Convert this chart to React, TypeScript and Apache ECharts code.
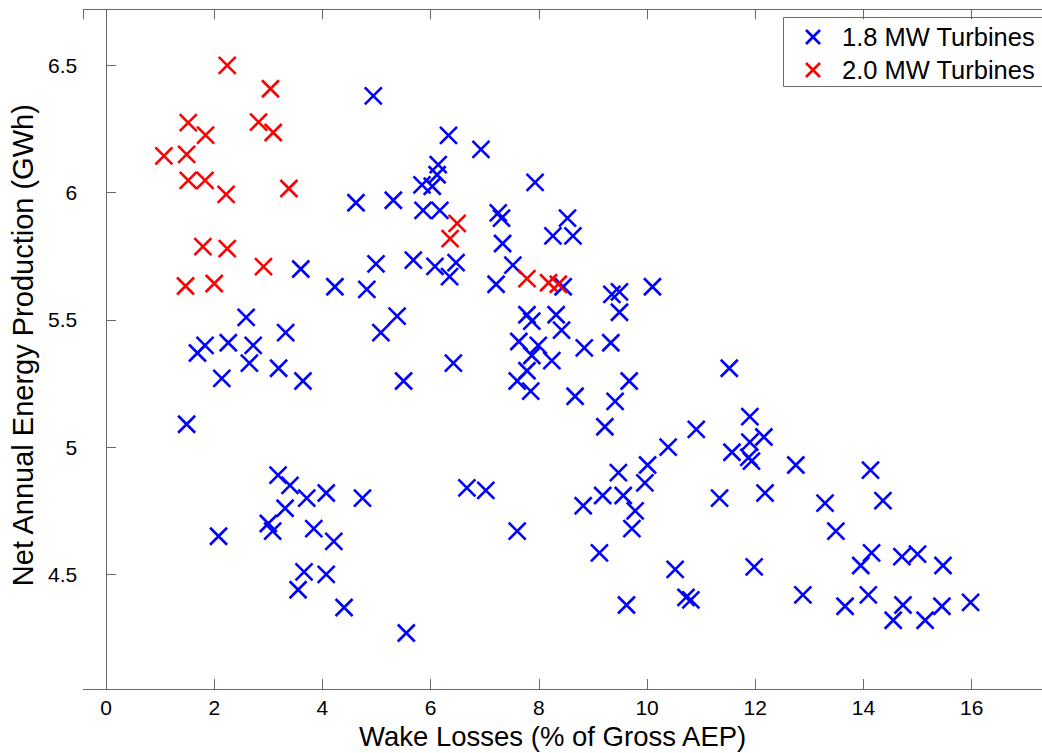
import React, { useEffect, useRef } from "react";
import * as echarts from "echarts";

const seriesNames = ["1.8 MW Turbines", "2.0 MW Turbines"];
const seriesColors = ["#0000ff", "#ff0000"];

const turbines18: number[][] = [
  [1.49, 5.09], [1.69, 5.37], [1.83, 5.4], [2.26, 5.41], [2.72, 5.4], [2.65, 5.33],
  [2.14, 5.27], [2.59, 5.51], [3.32, 5.45], [3.19, 5.31], [3.64, 5.26], [3.6, 5.7],
  [2.08, 4.65], [3.18, 4.89], [3.4, 4.85], [3.71, 4.8], [4.07, 4.82], [4.74, 4.8],
  [3.31, 4.76], [3.0, 4.7], [3.08, 4.67], [3.84, 4.68], [4.21, 4.63], [3.66, 4.51],
  [4.07, 4.5], [3.55, 4.44], [4.4, 4.37], [5.55, 4.27],
  [4.94, 6.38], [4.62, 5.96], [5.31, 5.97], [4.23, 5.63], [4.82, 5.62], [4.99, 5.72],
  [5.68, 5.735], [5.08, 5.45], [5.38, 5.515], [5.5, 5.26], [6.42, 5.33], [6.33, 6.225],
  [6.93, 6.17], [6.14, 6.11], [6.12, 6.07], [5.84, 6.03], [6.03, 6.025], [5.86, 5.93],
  [6.17, 5.93], [6.08, 5.71], [6.47, 5.725], [6.35, 5.67], [7.25, 5.92], [7.31, 5.9],
  [7.33, 5.8], [7.93, 6.04], [8.53, 5.9], [8.26, 5.83], [8.63, 5.83], [7.52, 5.715],
  [7.21, 5.64], [8.45, 5.63], [9.35, 5.6], [9.49, 5.61], [10.1, 5.63], [9.49, 5.53],
  [9.33, 5.41], [7.78, 5.52], [7.87, 5.495], [8.32, 5.52], [8.42, 5.46], [7.63, 5.415],
  [7.99, 5.4], [8.84, 5.39], [7.87, 5.36], [8.24, 5.34], [7.78, 5.3], [7.6, 5.26],
  [7.85, 5.22], [8.67, 5.2], [9.41, 5.18], [9.67, 5.26], [9.22, 5.08], [10.91, 5.07],
  [10.39, 5.0], [10.01, 4.93], [9.47, 4.9], [9.96, 4.86], [9.56, 4.81], [9.18, 4.81],
  [8.82, 4.77], [9.78, 4.75], [9.72, 4.68], [6.67, 4.84], [7.02, 4.83], [7.6, 4.67],
  [9.12, 4.585], [10.52, 4.52], [10.72, 4.41], [10.81, 4.4], [9.62, 4.38],
  [11.34, 4.8], [11.52, 5.31], [11.9, 5.12], [11.9, 5.02], [12.16, 5.04], [11.57, 4.98],
  [11.88, 4.96], [11.93, 4.945], [12.18, 4.82], [12.75, 4.93], [11.98, 4.53], [13.29, 4.78],
  [13.49, 4.67], [14.13, 4.91], [14.36, 4.79], [14.15, 4.585], [13.95, 4.535], [14.71, 4.57],
  [15.0, 4.58], [15.47, 4.535], [12.88, 4.42], [13.66, 4.375], [14.09, 4.42], [14.73, 4.38],
  [14.55, 4.32], [15.14, 4.32], [15.45, 4.375], [15.98, 4.39],
];

const turbines20: number[][] = [
  [2.24, 6.5], [3.04, 6.408], [1.52, 6.275], [1.84, 6.226], [2.82, 6.277], [3.09, 6.236],
  [1.07, 6.144], [1.49, 6.15], [1.52, 6.048], [1.83, 6.048], [2.22, 5.993], [3.38, 6.016],
  [1.79, 5.788], [2.24, 5.78], [2.91, 5.709], [1.47, 5.633], [2.0, 5.643],
  [6.49, 5.879], [6.36, 5.819], [7.78, 5.662], [8.18, 5.646], [8.36, 5.64],
];

const xRange = [-0.42, 17.3];
const yRange = [4.05, 6.72];
const xStep = 2;
const yStep = 0.5;

const xTitle = "Wake Losses (% of Gross AEP)";
const yTitle = "Net Annual Energy Production (GWh)";

const FONT = "'Liberation Sans', Arial, Helvetica, sans-serif";
const CROSS = "path://M0,0L10,10M10,0L0,10";

const isMultiple = (v: number, s: number) => Math.abs(v / s - Math.round(v / s)) < 1e-6;

export default function App() {
  const ref = useRef<HTMLDivElement>(null);
  useEffect(() => {
    if (!ref.current) return;
    const chart = echarts.init(ref.current, undefined, { renderer: "svg" });
    const axisLine = { show: true, lineStyle: { color: "#6a6a6a", width: 1 } };
    const tick = { show: true, inside: true, length: 10, lineStyle: { color: "#6a6a6a", width: 1 } };
    const mkSeries = (name: string, color: string, data: number[][]) => ({
      name,
      type: "scatter",
      data,
      symbol: CROSS,
      symbolSize: 17,
      itemStyle: { color: "transparent", borderColor: color, borderWidth: 2.6, opacity: 1 },
      emphasis: { disabled: true },
    });
    const legendY = [37, 70];
    const legendItems: any[] = [
      {
        type: "rect",
        shape: { x: 783.5, y: 17.5, width: 320, height: 69 },
        style: { fill: "#fff", stroke: "#6a6a6a", lineWidth: 1 },
      },
    ];
    seriesNames.forEach((n, i) => {
      const cy = legendY[i];
      legendItems.push(
        { type: "line", shape: { x1: 806, y1: cy - 7, x2: 820, y2: cy + 7 }, style: { stroke: seriesColors[i], lineWidth: 2.6 } },
        { type: "line", shape: { x1: 820, y1: cy - 7, x2: 806, y2: cy + 7 }, style: { stroke: seriesColors[i], lineWidth: 2.6 } },
        {
          type: "text",
          x: 842,
          y: cy,
          style: { text: n, fill: "#000", font: `25.5px ${FONT}`, verticalAlign: "middle", align: "left" },
        }
      );
    });
    const labelFmt = (s: number) => (v: number) => (isMultiple(v, s) ? String(v) : "");
    chart.setOption({
      animation: false,
      backgroundColor: "#fff",
      grid: { left: 83.3, top: 9.3, right: 0, bottom: 64, containLabel: false, outerBoundsMode: "none" },
      xAxis: [
        {
          type: "value",
          min: xRange[0],
          max: xRange[1],
          minInterval: xStep,
          maxInterval: xStep,
          name: xTitle,
          nameLocation: "middle",
          nameGap: 33,
          nameTextStyle: { fontSize: 27.5, fontFamily: FONT, color: "#000", padding: [0, 20, 0, 0] },
          axisLine,
          axisTick: tick,
          splitLine: { show: false },
          axisLabel: {
            margin: 8,
            fontSize: 21,
            fontFamily: FONT,
            color: "#000",
            showMinLabel: false,
            showMaxLabel: false,
            formatter: labelFmt(xStep),
          },
        },
        {
          type: "value",
          position: "top",
          min: xRange[0],
          max: xRange[1],
          minInterval: xStep,
          maxInterval: xStep,
          axisLine,
          axisTick: tick,
          splitLine: { show: false },
          axisLabel: { show: false },
        },
      ],
      yAxis: [
        {
          type: "value",
          min: yRange[0],
          max: yRange[1],
          minInterval: yStep,
          maxInterval: yStep,
          name: yTitle,
          nameLocation: "middle",
          nameRotate: 90,
          nameGap: 44,
          nameTextStyle: { fontSize: 29, fontFamily: FONT, color: "#000", padding: [0, 0, 0, 8] },
          axisLine,
          axisTick: tick,
          splitLine: { show: false },
          axisLabel: {
            margin: 6,
            fontSize: 21,
            fontFamily: FONT,
            color: "#000",
            showMinLabel: false,
            showMaxLabel: false,
            formatter: labelFmt(yStep),
          },
        },
      ],
      series: [
        mkSeries(seriesNames[0], seriesColors[0], turbines18),
        mkSeries(seriesNames[1], seriesColors[1], turbines20),
      ],
      graphic: { elements: legendItems },
    });
    return () => chart.dispose();
  }, []);
  return <div ref={ref} style={{ position: "fixed", left: 0, top: 0, width: 1042, height: 753 }} />;
}
